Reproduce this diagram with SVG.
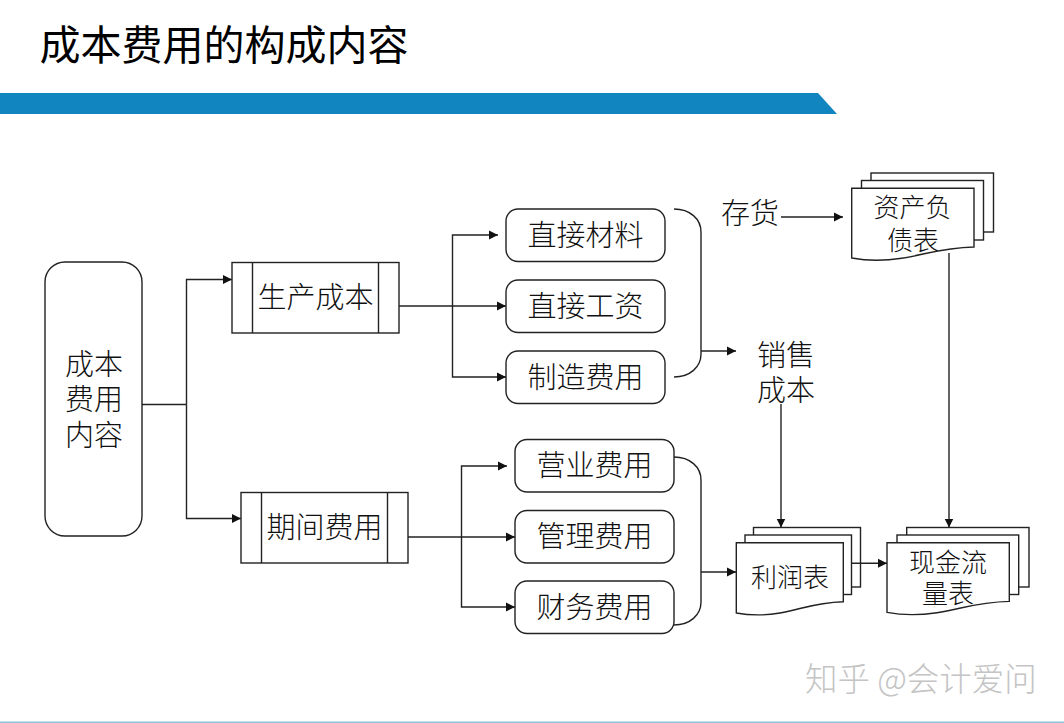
<svg xmlns="http://www.w3.org/2000/svg" width="1064" height="723" viewBox="0 0 1064 723">
<style>
text{font-family:"Noto Sans CJK SC","Noto Sans CJK JP",sans-serif;fill:#111;text-anchor:middle;font-weight:300}
.t29{font-size:29px}.t26{font-size:26px}
.s{fill:#fff;stroke:#222;stroke-width:1.4}
.c{fill:none;stroke:#222;stroke-width:1.4}
.a{marker-end:url(#arrow)}
</style>
<defs>
<marker id="arrow" markerUnits="userSpaceOnUse" markerWidth="10" markerHeight="10" refX="9" refY="5" orient="auto"><path d="M0,0.500L9,5L0,9.500Z" fill="#111"/></marker>
<path id="wave" d="M0,0H122.300V58.700C90,59.500 75,66 50,70C30,73 15,72.500 0,69.700Z"/>
</defs>
<rect width="1064" height="723" fill="#fff"/>
<g id="header">
<text x="224" y="60" style="font-size:41px;font-weight:400;fill:#000">成本费用的构成内容</text>
<polygon points="0,93 818,93 837,114 0,114" fill="#1185c0"/>
<rect x="0" y="721.500" width="1064" height="1.500" fill="#8fc4d8"/>
</g>
<g id="connectors">
<path class="c" d="M142,404.500H186.500"/>
<path class="c a" d="M186.500,404.500V279.500H232"/>
<path class="c a" d="M186.500,404.500V518.500H241"/>
<path class="c a" d="M399,306H506"/>
<path class="c a" d="M452.500,306V235H498"/>
<path class="c a" d="M452.500,306V377H506"/>
<path class="c a" d="M408,537H515"/>
<path class="c a" d="M461.500,537V466H507"/>
<path class="c a" d="M461.500,537V607H515"/>
<path class="c" d="M674,209C690,209 701,219 701,232V354C701,367 690,377 674,377"/>
<path class="c" d="M674,457C690,457 701,467 701,480V602C701,615 690,625 674,625"/>
<path class="c a" d="M701,351H736"/>
<path class="c a" d="M701,572H736"/>
<path class="c a" d="M781,217H843"/>
<path class="c a" d="M781,404V527.500"/>
<path class="c a" d="M949,253V527.500"/>
</g>
<g id="node-root"><rect class="s" x="45" y="262" width="97" height="274" rx="20"/>
<text class="t29" x="94" y="375">成本</text><text class="t29" x="94" y="410">费用</text><text class="t29" x="94" y="446">内容</text></g>
<g id="node-production"><rect class="s" x="232" y="262.500" width="167" height="70.500"/><path class="c" d="M252.500,262.500V333M378.500,262.500V333"/>
<text class="t29" x="315.500" y="308">生产成本</text></g>
<g id="node-period"><rect class="s" x="241" y="492.500" width="167" height="70.500"/><path class="c" d="M261.500,492.500V563M387.500,492.500V563"/>
<text class="t29" x="324.500" y="538">期间费用</text></g>
<g id="node-material"><rect class="s" x="506" y="209" width="159" height="52.500" rx="12"/><text class="t29" x="585.500" y="246">直接材料</text></g>
<g id="node-labor"><rect class="s" x="506" y="280" width="159" height="52.500" rx="12"/><text class="t29" x="585.500" y="317">直接工资</text></g>
<g id="node-overhead"><rect class="s" x="506" y="351" width="159" height="52.500" rx="12"/><text class="t29" x="585.500" y="388">制造费用</text></g>
<g id="node-sales"><rect class="s" x="515" y="439.500" width="159" height="52.500" rx="12"/><text class="t29" x="594.500" y="476">营业费用</text></g>
<g id="node-admin"><rect class="s" x="515" y="510.500" width="159" height="52.500" rx="12"/><text class="t29" x="594.500" y="547">管理费用</text></g>
<g id="node-finance"><rect class="s" x="515" y="581" width="159" height="52.500" rx="12"/><text class="t29" x="594.500" y="618">财务费用</text></g>
<g id="node-inventory"><text class="t29" x="750" y="224">存货</text></g>
<g id="node-cogs"><text class="t29" x="786" y="366">销售</text><text class="t29" x="786" y="401">成本</text></g>
<g id="node-balance">
<rect class="s" x="871" y="173" width="122.500" height="59"/><rect class="s" x="861.500" y="180.500" width="122" height="59.500"/>
<use href="#wave" class="s" x="851.700" y="188.300"/>
<text class="t26" x="912.500" y="217">资产负</text><text class="t26" x="913" y="250">债表</text></g>
<g id="node-income">
<rect class="s" x="753.500" y="527.500" width="107" height="59.500"/><rect class="s" x="745" y="535" width="106.500" height="59.500"/>
<path class="s" d="M736.300,542.700H843.300V601.700C815,602.500 802,609 780,613C762,616 750,615.500 736.300,613Z"/>
<text class="t26" x="790" y="587">利润表</text></g>
<g id="node-cashflow">
<rect class="s" x="906.700" y="527.500" width="122.300" height="59.500"/><rect class="s" x="897" y="535" width="121.700" height="59.500"/>
<use href="#wave" class="s" x="887" y="542.700"/>
<text class="t26" x="948" y="572">现金流</text><text class="t26" x="948" y="603">量表</text></g>
<path class="c a" d="M851.700,563.300H887"/>
<text x="921" y="691" style="font-size:32.500px;fill:#c4c4c4">知乎 @会计爱问</text>
</svg>
